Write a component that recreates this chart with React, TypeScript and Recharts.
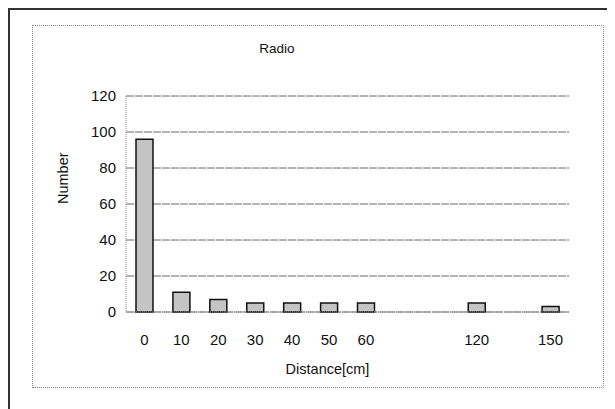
import React from 'react';
import { BarChart, Bar, XAxis, YAxis, CartesianGrid, Label } from 'recharts';

const distances = ['0', '10', '20', '30', '40', '50', '60', '', '', '120', '', '150'];
const counts: (number | null)[] = [96, 11, 7, 5, 5, 5, 5, null, null, 5, null, 3];
const yTicks = [0, 20, 40, 60, 80, 100, 120];

const data = distances.map((d, i) => ({ distance: d, count: counts[i] }));

const font = '"Liberation Sans", Arial, sans-serif';

export default function App() {
  return (
    <div style={{ position: 'relative', width: 607, height: 401, background: '#fff', fontFamily: font }}>
      <div style={{ position: 'absolute', left: 0, top: 0, width: 607, height: 401, borderTop: '2px solid #333', borderLeft: '2px solid #333', boxSizing: 'border-box' }} />
      <div style={{ position: 'absolute', left: 24, top: 17, width: 572, height: 363, border: '1px dotted #888', boxSizing: 'border-box' }} />
      <div style={{ position: 'absolute', left: 0, top: 0 }}>
        <BarChart
          width={607}
          height={401}
          data={data}
          margin={{ top: 88, right: 46, bottom: 67, left: 0 }}
          barSize={17}
        >
          <text x={269} y={45} textAnchor="middle" fontSize={13.5} fontFamily={font} fill="#111">Radio</text>
          <CartesianGrid vertical={false} stroke="#666" strokeDasharray="8 1" />
          <XAxis
            dataKey="distance"
            height={30}
            tickSize={0}
            tickMargin={22}
            axisLine={{ stroke: '#888', strokeDasharray: '1 1' }}
            tick={{ fontSize: 15, fill: '#111', fontFamily: font }}
            interval={0}
          >
            <Label value="Distance[cm]" position="insideBottom" dx={-20} offset={-32} fontSize={14.5} fill="#111" fontFamily={font} />
          </XAxis>
          <YAxis
            width={118}
            domain={[0, 120]}
            ticks={yTicks}
            tickSize={0}
            tickMargin={10}
            axisLine={{ stroke: '#888', strokeDasharray: '1 1' }}
            tick={{ fontSize: 15, fill: '#111', fontFamily: font }}
          >
            <Label value="Number" angle={-90} position="insideLeft" dx={50} fontSize={14.5} fill="#111" fontFamily={font} />
          </YAxis>
          <Bar dataKey="count" fill="#c4c4c4" stroke="#111" strokeWidth={1.5} isAnimationActive={false} />
        </BarChart>
      </div>
    </div>
  );
}
